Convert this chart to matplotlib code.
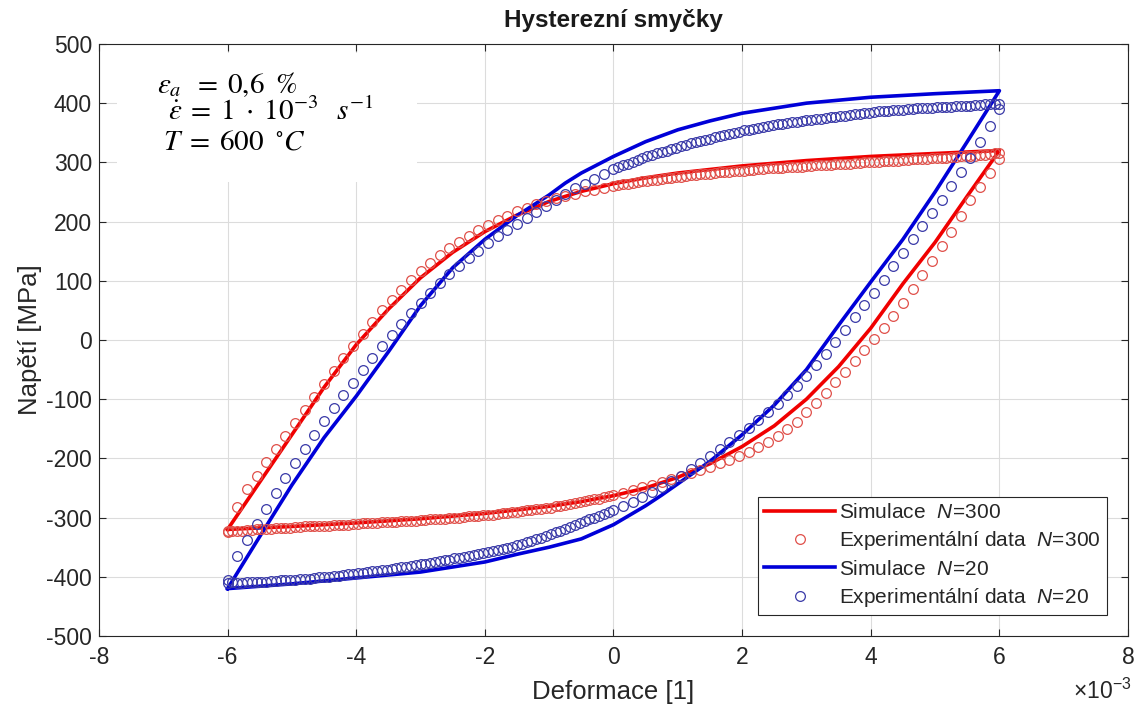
import matplotlib
matplotlib.use('Agg')
import matplotlib.pyplot as plt
from matplotlib.patches import Rectangle
from matplotlib.ticker import FuncFormatter

plt.rcParams['font.family'] = ['Liberation Sans', 'DejaVu Sans']
plt.rcParams['axes.unicode_minus'] = False
plt.rcParams['mathtext.fontset'] = 'custom'
plt.rcParams['mathtext.rm'] = 'Liberation Sans'
plt.rcParams['mathtext.it'] = 'Liberation Sans:italic'

# strain values are in units of 1e-3
# simulation N=300 (red), loading and unloading branch
red_sim_up_x = [-6, -5.5, -5, -4.5, -4, -3.5, -3, -2.5, -2, -1.5, -1, -0.5, 0, 0.5, 1, 2, 3, 4, 5, 6]
red_sim_up_y = [-320, -240, -160, -80, -8, 52, 105, 148, 183, 211, 234, 251, 264, 274, 282, 294, 303, 310, 315, 320]
red_sim_down_x = [6, 5.5, 5, 4.5, 4, 3.5, 3, 2.5, 2, 1.5, 1, 0.5, 0, -0.5, -1, -2, -3, -4, -5, -6]
red_sim_down_y = [320, 243, 165, 95, 20, -45, -100, -145, -180, -209, -232, -250, -263, -273, -281, -293, -302, -309, -315, -320]

# simulation N=20 (blue)
blue_sim_up_x = [-6, -5.5, -5, -4.5, -4, -3.5, -3, -2.5, -2, -1.5, -1, -0.75, -0.5, 0, 0.5, 1, 1.5, 2, 3, 4, 5, 6]
blue_sim_up_y = [-420, -332, -245, -165, -95, -20, 58, 122, 170, 210, 245, 265, 282, 310, 335, 355, 370, 383, 400, 410, 416, 421]
blue_sim_down_x = [6, 5.5, 5, 4.5, 4, 3.5, 3, 2.5, 2, 1.5, 1, 0.75, 0.5, 0, -0.5, -1, -1.5, -2, -3, -4, -5, -6]
blue_sim_down_y = [421, 335, 250, 170, 98, 25, -50, -110, -160, -205, -243, -262, -280, -312, -336, -350, -362, -375, -392, -402, -412, -420]

# experimental points, sampled on one strain grid
exp_x = [-6.00, -5.85, -5.70, -5.55, -5.40, -5.25, -5.10, -4.95, -4.80, -4.65,
         -4.50, -4.35, -4.20, -4.05, -3.90, -3.75, -3.60, -3.45, -3.30, -3.15,
         -3.00, -2.85, -2.70, -2.55, -2.40, -2.25, -2.10, -1.95, -1.80, -1.65,
         -1.50, -1.35, -1.20, -1.05, -0.90, -0.75, -0.60, -0.45, -0.30, -0.15,
         0.00, 0.15, 0.30, 0.45, 0.60, 0.75, 0.90, 1.05, 1.20, 1.35,
         1.50, 1.65, 1.80, 1.95, 2.10, 2.25, 2.40, 2.55, 2.70, 2.85,
         3.00, 3.15, 3.30, 3.45, 3.60, 3.75, 3.90, 4.05, 4.20, 4.35,
         4.50, 4.65, 4.80, 4.95, 5.10, 5.25, 5.40, 5.55, 5.70, 5.85,
         6.00]

red_exp_up = [-325, -282, -252, -229, -206, -184, -162, -140, -118, -96,
              -74, -52, -31, -10, 10, 30, 50, 68, 85, 101,
              116, 130, 143, 155, 166, 176, 186, 195, 203, 210,
              217, 223, 229, 234, 239, 243, 247, 251, 254, 257,
              260, 263, 265, 268, 270, 272, 274, 276, 278, 280,
              281, 283, 284, 286, 287, 288, 290, 291, 292, 293,
              294, 295, 296, 297, 298, 299, 300, 301, 302, 303,
              304, 305, 306, 307, 308, 309, 310, 311, 312, 314,
              316]
red_exp_down = [-323, -322, -321, -320, -319, -318, -317, -316, -315, -314,
                -314, -313, -312, -311, -310, -309, -308, -307, -306, -305,
                -304, -303, -302, -301, -300, -298, -297, -295, -294, -292,
                -290, -288, -286, -284, -281, -278, -275, -272, -269, -266,
                -262, -258, -254, -249, -245, -240, -235, -230, -225, -220,
                -214, -208, -202, -196, -189, -181, -172, -162, -151, -138,
                -122, -106, -89, -71, -54, -36, -17, 2, 21, 40,
                62, 86, 110, 134, 158, 183, 210, 236, 258, 282,
                305]
blue_exp_up = [-410, -365, -338, -311, -285, -259, -233, -208, -184, -160,
               -137, -115, -93, -72, -51, -31, -11, 8, 27, 45,
               63, 80, 96, 111, 125, 138, 151, 163, 175, 186,
               196, 206, 216, 227, 237, 247, 256, 264, 272, 280,
               288, 295, 301, 307, 312, 317, 322, 327, 332, 336,
               340, 344, 348, 352, 355, 358, 361, 364, 366, 369,
               371, 373, 375, 377, 379, 381, 383, 385, 386, 388,
               389, 390, 391, 392, 393, 394, 395, 396, 397, 398,
               399]
blue_exp_down = [-405, -410, -409, -409, -408, -407, -406, -405, -404, -402,
                 -401, -399, -397, -395, -393, -391, -389, -387, -384, -382,
                 -379, -377, -374, -371, -368, -365, -362, -359, -355, -351,
                 -347, -342, -337, -331, -325, -319, -313, -306, -300, -294,
                 -287, -280, -273, -265, -257, -248, -239, -229, -218, -207,
                 -196, -185, -173, -161, -148, -135, -122, -108, -93, -78,
                 -61, -43, -24, -4, 17, 38, 59, 80, 102, 125,
                 147, 170, 193, 215, 237, 260, 283, 308, 335, 362,
                 390]

# the flat parts of the loops are sampled more densely
flat_x_pos = [0.075, 0.225, 0.375, 0.525, 0.675, 0.825, 0.975, 1.125, 1.275, 1.425,
              1.575, 1.725, 1.875, 2.025, 2.175, 2.325, 2.475, 2.625, 2.775, 2.925,
              3.075, 3.225, 3.375, 3.525, 3.675, 3.825, 3.975, 4.125, 4.275, 4.425,
              4.575, 4.725, 4.875, 5.025, 5.175, 5.325, 5.475, 5.625, 5.775, 5.925]
flat_x_neg = [-5.925, -5.775, -5.625, -5.475, -5.325, -5.175, -5.025, -4.875, -4.725, -4.575,
              -4.425, -4.275, -4.125, -3.975, -3.825, -3.675, -3.525, -3.375, -3.225, -3.075,
              -2.925, -2.775, -2.625, -2.475, -2.325, -2.175, -2.025, -1.875, -1.725, -1.575,
              -1.425, -1.275, -1.125, -0.975, -0.825, -0.675, -0.525, -0.375, -0.225, -0.075]
red_flat_up = [262, 264, 266, 269, 271, 273, 275, 277, 279, 281,
               282, 283, 285, 286, 287, 289, 290, 291, 292, 293,
               294, 295, 296, 297, 298, 299, 300, 301, 302, 303,
               304, 305, 306, 307, 308, 309, 310, 311, 313, 315]
red_flat_down = [-323, -322, -321, -320, -319, -318, -317, -316, -315, -314,
                 -314, -313, -312, -311, -310, -309, -308, -307, -306, -305,
                 -304, -303, -302, -301, -299, -298, -296, -295, -293, -291,
                 -289, -287, -285, -283, -280, -277, -274, -271, -268, -264]
blue_flat_up = [292, 298, 304, 310, 315, 320, 325, 330, 334, 338,
                342, 346, 350, 354, 357, 360, 363, 365, 368, 370,
                372, 374, 376, 378, 380, 382, 384, 386, 387, 389,
                390, 391, 392, 393, 394, 395, 396, 397, 398, 399]
blue_flat_down = [-409, -410, -409, -408, -407, -406, -405, -404, -403, -401,
                  -400, -398, -396, -394, -392, -390, -388, -385, -383, -380,
                  -378, -375, -372, -369, -366, -363, -360, -357, -353, -349,
                  -344, -340, -334, -328, -322, -316, -310, -303, -297, -290]

x_ticks = [-8, -6, -4, -2, 0, 2, 4, 6, 8]
y_ticks = [-500, -400, -300, -200, -100, 0, 100, 200, 300, 400, 500]

RED = '#f00000'
BLUE = '#0000d8'
RED_C = '#e0504a'
BLUE_C = '#3a3aa8'
DARK = '#262626'


def scale(vals):
    return [v * 1e-3 for v in vals]


fig = plt.figure(figsize=(11.36, 7.09), dpi=100)
ax = fig.add_axes([0.0871, 0.103, 0.9059, 0.835])

circ = dict(ls='none', marker='o', ms=7, mfc='none', mew=0.9, zorder=4)
ax.plot(scale(red_sim_up_x + red_sim_down_x), red_sim_up_y + red_sim_down_y,
        color=RED, lw=2.6, label=r'Simulace  $\mathit{N}\!=\!\mathit{300}$', zorder=3)
ax.plot(scale(exp_x + exp_x + flat_x_pos + flat_x_neg),
        red_exp_up + red_exp_down + red_flat_up + red_flat_down, mec=RED_C,
        label=r'Experimentální data  $\mathit{N}\!=\!\mathit{300}$', **circ)
ax.plot(scale(blue_sim_up_x + blue_sim_down_x), blue_sim_up_y + blue_sim_down_y,
        color=BLUE, lw=2.6, label=r'Simulace  $\mathit{N}\!=\!\mathit{20}$', zorder=3)
ax.plot(scale(exp_x + exp_x + flat_x_pos + flat_x_neg),
        blue_exp_up + blue_exp_down + blue_flat_up + blue_flat_down, mec=BLUE_C,
        label=r'Experimentální data  $\mathit{N}\!=\!\mathit{20}$', **circ)

ax.set_xlim(-8e-3, 8e-3)
ax.set_ylim(-500, 500)
ax.set_xticks(scale(x_ticks))
ax.set_yticks(y_ticks)
ax.xaxis.set_major_formatter(FuncFormatter(lambda v, p: '%g' % round(v * 1e3, 6)))
ax.text(1.003, -0.072, r'$\times\mathrm{10}^{-3}$', transform=ax.transAxes,
        ha='right', va='top', fontsize=16.5, color=DARK)

ax.set_axisbelow(True)
ax.grid(True, color='#dcdcdc', lw=0.8)
ax.tick_params(direction='in', top=True, right=True, length=5, width=0.8,
               labelsize=16.5, colors=DARK)
ax.tick_params(axis='x', pad=7)
ax.tick_params(axis='y', pad=5)
for s in ax.spines.values():
    s.set_color(DARK)
    s.set_linewidth(0.8)

ax.set_title('Hysterezní smyčky', fontsize=17.5, fontweight='bold', color='#1a1a1a', pad=12)
ax.set_xlabel('Deformace [1]', fontsize=18.5, color=DARK, labelpad=8)
ax.set_ylabel('Napětí [MPa]', fontsize=18.5, color=DARK, labelpad=3)

# white box behind the test conditions
ax.add_patch(Rectangle((0.0175, 0.767), 0.292, 0.218, transform=ax.transAxes,
                       facecolor='white', edgecolor='none', zorder=1))
cond = dict(transform=ax.transAxes, fontsize=21, math_fontfamily='stix', color='black',
            zorder=5, va='baseline')
ax.text(0.0564, 0.9172, r'$\varepsilon_a\;\;=\;0{,}6\;\;\%$', **cond)
ax.text(0.0671, 0.8716, r'$\dot{\varepsilon}\;=\;1\;\cdot\;10^{-3}\;\;\;s^{-1}$', **cond)
ax.text(0.0622, 0.8209, r'$T\;=\;600\;\;{}^{\circ}C$', **cond)

leg = ax.legend(loc='lower right', fontsize=15, handlelength=3.4, handletextpad=0.2,
                labelspacing=0.35, borderpad=0.3, borderaxespad=1.0, fancybox=False,
                framealpha=1, edgecolor=DARK)
leg.get_frame().set_linewidth(0.8)
for t in leg.get_texts():
    t.set_color(DARK)

fig.savefig('out.png', dpi=100, facecolor='white')
